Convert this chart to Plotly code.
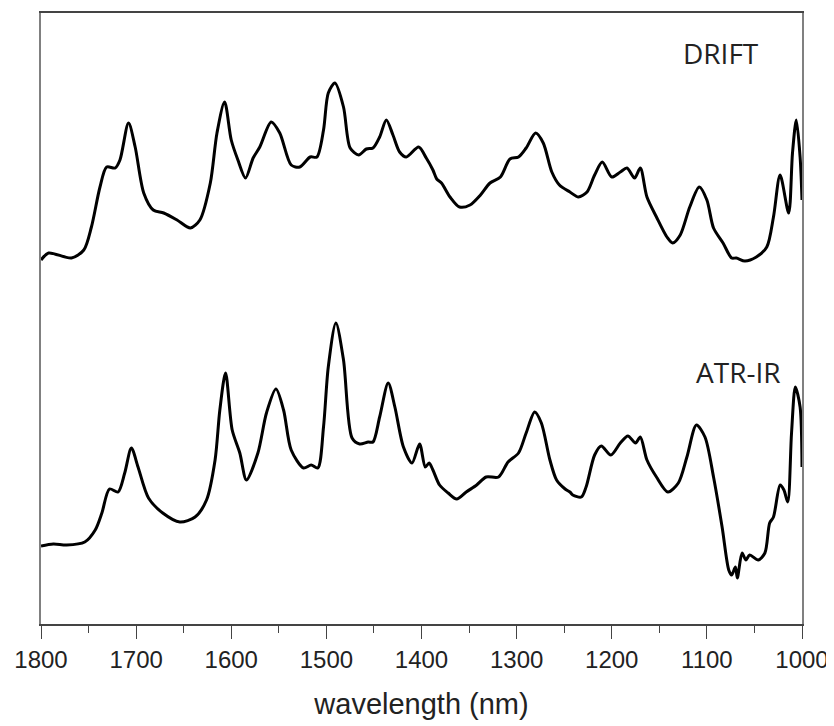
import plotly.graph_objects as go

# Wavelength (nm) and intensity (arbitrary units, offset stacked)
drift_wl = [1800, 1792, 1768, 1755, 1747, 1738, 1731, 1722, 1717, 1708, 1701, 1692, 1682, 1671,
            1657, 1643, 1633, 1622, 1615, 1607, 1600, 1593, 1585, 1577, 1570, 1558, 1549, 1537,
            1528, 1517, 1510, 1503, 1498, 1491, 1482, 1475, 1466, 1458, 1451, 1444, 1437, 1430,
            1423, 1416, 1403, 1395, 1388, 1384, 1379, 1370, 1360, 1349, 1338, 1328, 1317, 1307,
            1298, 1290, 1280, 1272, 1263, 1255, 1244, 1235, 1226, 1218, 1210, 1200, 1191, 1184,
            1176, 1170, 1163, 1153, 1142, 1136, 1128, 1118, 1108, 1100, 1093, 1083, 1074, 1069,
            1060, 1048, 1037, 1030, 1023, 1014, 1010, 1006, 1002, 1000]
drift_val = [364, 371, 366, 374, 397, 437, 457, 456, 464, 501, 477, 431, 414, 411,
             404, 396, 404, 441, 491, 522, 484, 464, 446, 466, 477, 502, 491, 459,
             457, 467, 467, 494, 531, 541, 517, 476, 469, 475, 476, 487, 504, 489,
             472, 467, 477, 466, 454, 445, 441, 427, 417, 419, 429, 441, 447, 465,
             467, 476, 491, 481, 452, 439, 432, 427, 432, 449, 462, 447, 452, 456,
             446, 456, 427, 407, 387, 381, 389, 417, 437, 424, 396, 381, 366, 366,
             363, 367, 377, 407, 449, 411, 471, 504, 467, 424]

atr_wl = [1800, 1787, 1773, 1754, 1743, 1736, 1728, 1719, 1712, 1705, 1698, 1687, 1672, 1654,
          1638, 1626, 1617, 1612, 1606, 1599, 1591, 1584, 1572, 1563, 1553, 1545, 1537, 1524,
          1516, 1509, 1503, 1498, 1490, 1482, 1473, 1465, 1456, 1451, 1444, 1435, 1428, 1419,
          1410, 1402, 1396, 1392, 1388, 1381, 1372, 1363, 1353, 1342, 1332, 1319, 1309, 1298,
          1290, 1281, 1274, 1265, 1258, 1249, 1244, 1241, 1232, 1227, 1218, 1211, 1201, 1191,
          1183, 1175, 1170, 1163, 1153, 1141, 1130, 1121, 1111, 1102, 1093, 1084, 1077, 1074,
          1070, 1068, 1063, 1059, 1055, 1046, 1039, 1034, 1030, 1023, 1019, 1015, 1011, 1007,
          1002, 1000]
atr_val = [78, 80, 79, 82, 94, 111, 135, 132, 151, 176, 157, 126, 111, 102,
           107, 124, 164, 214, 251, 194, 171, 144, 171, 211, 235, 214, 174, 156,
           159, 156, 197, 257, 301, 264, 186, 180, 182, 182, 207, 241, 217, 177,
           161, 180, 157, 161, 154, 139, 131, 125, 132, 139, 147, 147, 162, 171,
           191, 212, 201, 164, 144, 135, 132, 129, 127, 137, 169, 178, 169, 181,
           188, 181, 187, 164, 147, 132, 141, 167, 199, 187, 147, 97, 54, 49,
           57, 46, 71, 64, 69, 64, 71, 101, 107, 139, 134, 122, 191, 237,
           217, 157]

x_ticks = [1800, 1700, 1600, 1500, 1400, 1300, 1200, 1100, 1000]
labels = ["DRIFT", "ATR-IR"]
label_pos = [(1085, 571), (1067, 252)]

fig = go.Figure()
for wl, val in [(drift_wl, drift_val), (atr_wl, atr_val)]:
    fig.add_trace(go.Scatter(x=wl, y=val, mode="lines",
                             line=dict(color="black", width=3, shape="spline", smoothing=0.8),
                             showlegend=False, hoverinfo="skip"))

for txt, (lx, ly) in zip(labels, label_pos):
    fig.add_annotation(x=lx, y=ly, text=txt, showarrow=False,
                       font=dict(family="Open Sans", size=28, color="#222222"))

# the page body adds an 8px offset, so the figure is 8px smaller on each axis
fig.update_layout(
    width=826, height=718,
    margin=dict(l=33, r=32, t=5, b=102, autoexpand=False),
    paper_bgcolor="white", plot_bgcolor="white",
)
fig.update_xaxes(
    range=[1800, 1000], tickvals=x_ticks, ticks="outside", ticklen=13, tickwidth=1.2,
    tickcolor="#444444", showline=True, linecolor="#444444", linewidth=1.5, mirror=True,
    showgrid=False, zeroline=False, automargin=False,
    tickfont=dict(family="Liberation Sans", size=24, color="#222222"),
    minor=dict(dtick=50, ticks="outside", ticklen=7, tickcolor="#444444", tickwidth=1.2, showgrid=False),
    title=dict(text="wavelength (nm)", font=dict(family="Liberation Sans", size=29, color="#222222"),
               standoff=22),
)
fig.update_yaxes(
    range=[0, 611], showticklabels=False, ticks="", showgrid=False, zeroline=False,
    showline=True, linecolor="#808080", linewidth=1.5, mirror=True, automargin=False,
)

fig.write_html("out.html")
